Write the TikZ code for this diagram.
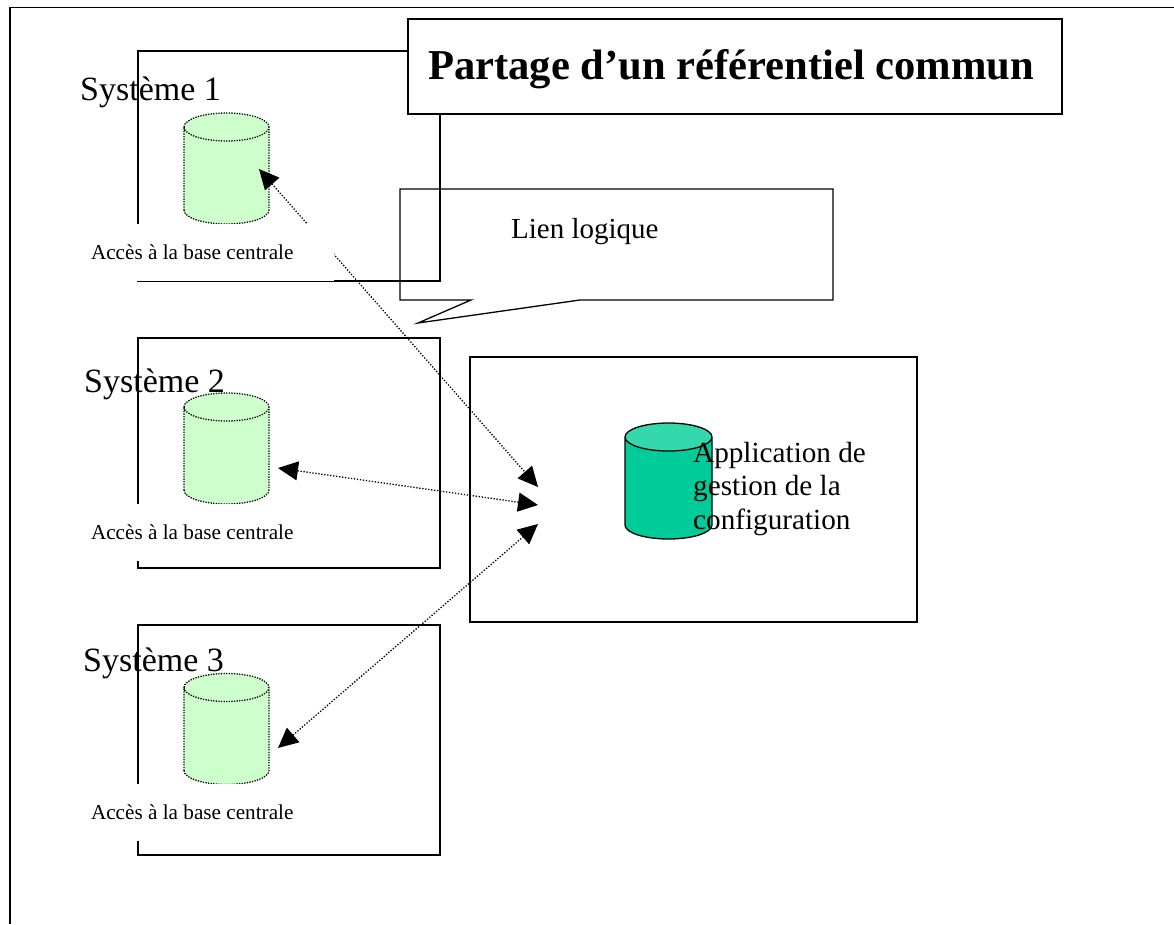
\documentclass[tikz,border=0pt]{standalone}
\usepackage{fontspec}
\setmainfont{Liberation Serif}
\usetikzlibrary{shapes.geometric,arrows.meta}
\definecolor{dblight}{RGB}{204,255,204}
\definecolor{dbmain}{RGB}{0,204,153}
\definecolor{dbtop}{RGB}{51,217,173}
\tikzset{
  frameline/.style={line width=1.5pt},
  sysbox/.style={rectangle,draw,line width=1.3pt,minimum width=302pt,minimum height=230pt,inner sep=0pt},
  sysdb/.style={cylinder,shape border rotate=90,draw,line width=1.3pt,dash pattern=on 1.3pt off 1.3pt,aspect=7,anchor=shape center,
    minimum width=85pt,minimum height=111pt,inner sep=2pt,cylinder uses custom fill,
    cylinder body fill=dblight,cylinder end fill=dblight},
  maindb/.style={cylinder,shape border rotate=90,draw,line width=1.3pt,aspect=7,anchor=shape center,
    minimum width=87pt,minimum height=116pt,inner sep=2pt,cylinder uses custom fill,
    cylinder body fill=dbmain,cylinder end fill=dbtop},
  lien/.style={line width=1.3pt,dash pattern=on 1.3pt off 1.7pt,{Triangle[length=20pt,width=19pt]}-{Triangle[length=20pt,width=19pt]}},
  acces/.style={rectangle,fill=white,font=\fontsize{21.2}{24}\selectfont,minimum height=57pt,
    inner xsep=7pt,inner ysep=0pt},
  syslabel/.style={anchor=base west,inner sep=0pt,font=\fontsize{34}{36}\selectfont},
}
\newcommand{\accestext}{\makebox[236pt][l]{Accès à la base centrale}}
\begin{document}
\begin{tikzpicture}[x=1pt,y=-1pt]
  \useasboundingbox (0,0) rectangle (1174,924);
  \draw[frameline] (1174,7.5) -- (10,7.5) -- (10,924);
  % systemes
  \node[sysbox](sys1)at(289,166){};
  \node[sysbox](sys2)at(289,453){};
  \node[sysbox](sys3)at(289,740){};
  \node[sysdb](db1)at(226.5,168.5){};
  \node[sysdb](db2)at(226.5,448.5){};
  \node[sysdb](db3)at(226.5,729){};
  % application centrale
  \node[rectangle,draw,line width=1.3pt,minimum width=447pt,minimum height=265pt](app)at(693.5,489.5){};
  \node[maindb](dbapp)at(668.5,481){};
  % bouts des liens
  \coordinate (tip1) at (259,169);
  \coordinate (tip2) at (278,468);
  \coordinate (tip3) at (278,748);
  \coordinate (appa) at (538,487);
  \coordinate (appb) at (538,505);
  \coordinate (appc) at (538,524);
  \draw[lien](tip1)--(appa);
  \draw[lien](tip2)--(appb);
  \draw[lien](tip3)--(appc);
  % textes
  \node[acces](acces1)at(209,252.5){\accestext};
  \node[acces](acces2)at(209,532.5){\accestext};
  \node[acces](acces3)at(209,812.5){\accestext};
  \node[syslabel](nom1)at(80,100){Système 1};
  \node[syslabel](nom2)at(84,392){Système 2};
  \node[syslabel](nom3)at(83,671){Système 3};
  \node[anchor=north west,inner sep=0pt,align=left,font=\fontsize{29.2}{33.3}\selectfont](apptext)at(693,442){Application de\\gestion de la\\configuration};
  % bulle
  \draw[line width=1.3pt,line join=miter] (400,189) -- (833,189) -- (833,300) -- (580,300) -- (418,323) -- (471,300) -- (400,300) -- cycle;
  \node[anchor=base west,inner sep=0pt,font=\fontsize{29}{32}\selectfont](bulle)at(511,238){Lien logique};
  % titre
  \node[rectangle,draw,fill=white,line width=1.5pt,minimum width=654pt,minimum height=95pt,inner xsep=20pt,text height=32pt,text depth=6pt,
    font=\bfseries\fontsize{42.6}{46}\selectfont](titre)at(735,66.5){\makebox[614pt][l]{Partage d’un référentiel commun}};
\end{tikzpicture}
\end{document}
